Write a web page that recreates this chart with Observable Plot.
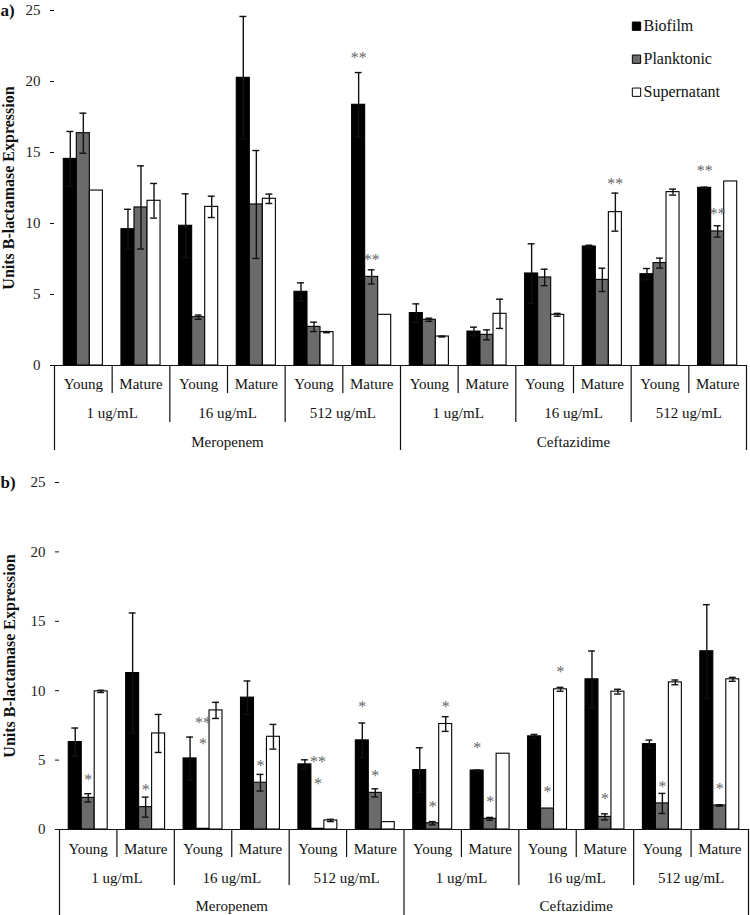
<!DOCTYPE html>
<html><head><meta charset="utf-8">
<script src="https://cdn.jsdelivr.net/npm/d3@7"></script>
<script src="https://cdn.jsdelivr.net/npm/@observablehq/plot@0.6"></script>
<style>
body{margin:0;background:#fff;}
#chart{width:750px;}
#chart svg{display:block;font-family:"Liberation Serif",serif;}
</style></head><body><div id="chart"></div>
<script>
// ---------- categories ----------
const drugs = ["Meropenem", "Ceftazidime"];
const concentrations = ["1 ug/mL", "16 ug/mL", "512 ug/mL"];
const ages = ["Young", "Mature"];
const series = ["Biofilm", "Planktonic", "Supernatant"];
const seriesColors = ["#000000", "#6b6b6b", "#ffffff"];
const yTicks = [0, 5, 10, 15, 20, 25];
const yLabel = "Units B-lactamase Expression";

// ---------- panel a values (12 groups: drug x concentration x age) ----------
const biofilmA        = [14.55, 9.60, 9.84, 20.26, 5.19, 18.36, 3.69, 2.39, 6.48, 8.38, 6.43, 12.51];
const biofilmErrA     = [1.93, 1.40, 2.25, 4.32, 0.63, 2.27, 0.65, 0.31, 2.09, 0.09, 0.40, 0.05];
const planktonicA     = [16.36, 11.13, 3.40, 11.34, 2.72, 6.24, 3.22, 2.16, 6.20, 6.03, 7.21, 9.44];
const planktonicErrA  = [1.41, 2.93, 0.15, 3.80, 0.33, 0.50, 0.11, 0.35, 0.58, 0.82, 0.35, 0.40];
const supernatantA    = [12.32, 11.60, 11.17, 11.74, 2.35, 3.57, 2.04, 3.64, 3.57, 10.80, 12.21, 12.96];
const supernatantErrA = [0, 1.22, 0.75, 0.33, 0.04, 0, 0.03, 1.03, 0.10, 1.34, 0.21, 0];
const starsA = [
  {group: 5, series: "Biofilm", label: "**", value: 21.9},
  {group: 5, series: "Planktonic", label: "**", value: 7.63},
  {group: 9, series: "Supernatant", label: "**", value: 13.03},
  {group: 11, series: "Biofilm", label: "**", value: 13.92},
  {group: 11, series: "Planktonic", label: "**", value: 10.87}
];

// ---------- panel b values ----------
const biofilmB        = [6.30, 11.27, 5.12, 9.50, 4.69, 6.42, 4.28, 4.25, 6.71, 10.82, 6.15, 12.84];
const biofilmErrB     = [1.01, 4.33, 1.54, 1.20, 0.33, 1.25, 1.61, 0.03, 0.14, 2.04, 0.29, 3.36];
const planktonicB     = [2.28, 1.61, 0.05, 3.37, 0.05, 2.64, 0.45, 0.77, 1.51, 0.91, 1.88, 1.73];
const planktonicErrB  = [0.30, 0.72, 0, 0.60, 0, 0.29, 0.12, 0.10, 0, 0.22, 0.72, 0.05];
const supernatantB    = [9.95, 6.92, 8.58, 6.68, 0.65, 0.53, 7.60, 5.46, 10.10, 9.93, 10.60, 10.82];
const supernatantErrB = [0.08, 1.37, 0.58, 0.89, 0.08, 0, 0.53, 0, 0.14, 0.17, 0.17, 0.14];
const starsB = [
  {group: 0, series: "Planktonic", label: "*", value: 3.77},
  {group: 1, series: "Planktonic", label: "*", value: 3.10},
  {group: 2, series: "Planktonic", label: "**", value: 7.93},
  {group: 2, series: "Planktonic", label: "*", value: 6.37},
  {group: 3, series: "Planktonic", label: "*", value: 4.80},
  {group: 4, series: "Planktonic", label: "**", value: 5.12},
  {group: 4, series: "Planktonic", label: "*", value: 3.53},
  {group: 5, series: "Biofilm", label: "*", value: 9.06},
  {group: 5, series: "Planktonic", label: "*", value: 4.09},
  {group: 6, series: "Planktonic", label: "*", value: 1.88},
  {group: 6, series: "Supernatant", label: "*", value: 9.06},
  {group: 7, series: "Biofilm", label: "*", value: 6.10},
  {group: 7, series: "Planktonic", label: "*", value: 2.21},
  {group: 8, series: "Planktonic", label: "*", value: 2.96},
  {group: 8, series: "Supernatant", label: "*", value: 11.54},
  {group: 9, series: "Planktonic", label: "*", value: 2.40},
  {group: 10, series: "Planktonic", label: "*", value: 3.29},
  {group: 11, series: "Planktonic", label: "*", value: 3.13}
];

// ---------- layout helpers ----------
const FONT = "Liberation Serif, serif";
const groups = drugs.flatMap(d => concentrations.flatMap(c => ages.map(a => ({drug: d, conc: c, age: a}))));
const BW = 0.226;                 // bar width in group units
const PAD = (1 - 3 * BW) / 2;     // outer padding inside a group
const CAP = 0.06;                 // half width of error caps
const barX1 = (g, k) => g + PAD + k * BW;
const barXc = (g, k) => barX1(g, k) + BW / 2;

function makePanel(cfg) {
  const vals = [cfg.bio, cfg.pl, cfg.sup];
  const errs = [cfg.bioErr, cfg.plErr, cfg.supErr];
  const rows = groups.flatMap((g, i) => series.map((s, k) => ({
    group: i, series: s, k, value: vals[k][i], err: errs[k][i],
    x1: barX1(i, k), x2: barX1(i, k) + BW, xc: barXc(i, k)
  })));
  const errRows = rows.filter(d => d.err > 0);
  const stars = cfg.stars.map(s => ({...s, xc: barXc(s.group, series.indexOf(s.series))}));

  // group boundaries with their level (1: age, 2: concentration, 3: drug)
  const bounds = d3.range(groups.length + 1).map(i => {
    const a = groups[i - 1], b = groups[i];
    const level = (!a || !b || a.drug !== b.drug) ? 3 : (a.conc !== b.conc ? 2 : 1);
    return {pos: i, level};
  });
  const ageLabels = groups.map((g, i) => ({pos: i + 0.5, text: g.age}));
  const concLabels = d3.range(groups.length / 2).map(j => ({pos: 2 * j + 1, text: groups[2 * j].conc}));
  const drugLabels = drugs.map((d, j) => ({pos: j * 6 + 3, text: d}));

  const L = cfg.lineLens;
  const txt = {fontFamily: FONT, fill: "#111"};
  const marks = [
    Plot.rectY(rows, {x1: "x1", x2: "x2", y1: 0, y2: "value", fill: "series", stroke: "#000", strokeWidth: 1.1}),
    Plot.ruleX(errRows, {x: "xc", y1: d => d.value - d.err, y2: d => d.value + d.err, stroke: "#111", strokeWidth: 1.4}),
    Plot.ruleY(errRows, {y: d => d.value + d.err, x1: d => d.xc - CAP, x2: d => d.xc + CAP, stroke: "#111", strokeWidth: 1.4}),
    Plot.ruleY(errRows, {y: d => d.value - d.err, x1: d => d.xc - CAP, x2: d => d.xc + CAP, stroke: "#111", strokeWidth: 1.4}),
    Plot.text(stars, {x: "xc", y: "value", text: "label", fontFamily: FONT, fill: "#666", fontSize: 16, dy: 3}),
    Plot.ruleY([0], {stroke: "#111", strokeWidth: 1.2}),
    Plot.axisY(yTicks, {tickSize: 4, tickPadding: 10, fontSize: 15, fontFamily: FONT, line: true, label: null, stroke: "#111", fill: "#222"}),
    // hierarchical category axis
    Plot.ruleX(bounds.filter(d => d.level === 1), {x: "pos", y1: 0, y2: 0, insetBottom: -L[0], stroke: "#111", strokeWidth: 1.2}),
    Plot.ruleX(bounds.filter(d => d.level === 2), {x: "pos", y1: 0, y2: 0, insetBottom: -L[1], stroke: "#111", strokeWidth: 1.2}),
    Plot.ruleX(bounds.filter(d => d.level === 3), {x: "pos", y1: 0, y2: 0, insetBottom: -L[2], stroke: "#111", strokeWidth: 1.2}),
    Plot.text(ageLabels, {x: "pos", y: 0, text: "text", dy: cfg.rowDy[0], fontSize: 15, ...txt}),
    Plot.text(concLabels, {x: "pos", y: 0, text: "text", dy: cfg.rowDy[1], fontSize: 15, ...txt}),
    Plot.text(drugLabels, {x: "pos", y: 0, text: "text", dy: cfg.rowDy[2], fontSize: 15, ...txt}),
    // y title and panel tag
    Plot.text([yLabel], {frameAnchor: "left", dx: cfg.titleDx, rotate: -90, text: d => d, textAnchor: "middle", lineAnchor: "middle", fontWeight: "bold", fontSize: 16, ...txt}),
    Plot.text([cfg.tag], {frameAnchor: "top-left", dx: -cfg.marginLeft, dy: 0, text: d => d, textAnchor: "start", lineAnchor: "middle", fontWeight: "bold", fontSize: 17, ...txt})
  ];
  if (cfg.legend) {
    series.forEach((s, i) => {
      marks.push(Plot.dot([s], {frameAnchor: "top-left", dx: 582, dy: 15.7 + 33 * i, symbol: "square", r: 4.7, fill: seriesColors[i], stroke: "#000", strokeWidth: 1}));
      marks.push(Plot.text([s], {frameAnchor: "top-left", dx: 589, dy: 15.7 + 33 * i, text: d => d, textAnchor: "start", lineAnchor: "middle", fontSize: 16, ...txt}));
    });
  }
  return Plot.plot({
    width: 750,
    height: cfg.height,
    marginTop: cfg.marginTop,
    marginBottom: cfg.marginBottom,
    marginLeft: cfg.marginLeft,
    marginRight: cfg.marginRight,
    style: {fontFamily: FONT, fontSize: "15px", color: "#111", background: "#fff"},
    x: {type: "linear", domain: [0, groups.length], axis: null},
    y: {domain: [0, 25], axis: null},
    color: {domain: series, range: seriesColors},
    marks
  });
}

const chart = document.getElementById("chart");
chart.append(makePanel({
  tag: "a)", bio: biofilmA, bioErr: biofilmErrA, pl: planktonicA, plErr: planktonicErrA,
  sup: supernatantA, supErr: supernatantErrA, stars: starsA, legend: true,
  height: 470, marginTop: 10, marginBottom: 105, marginLeft: 54, marginRight: 4,
  lineLens: [28, 57, 85], rowDy: [19, 48, 77], titleDx: -46
}));
chart.append(makePanel({
  tag: "b)", bio: biofilmB, bioErr: biofilmErrB, pl: planktonicB, plErr: planktonicErrB,
  sup: supernatantB, supErr: supernatantErrB, stars: starsB, legend: false,
  height: 445, marginTop: 12, marginBottom: 86, marginLeft: 59, marginRight: 2,
  lineLens: [28, 56, 86], rowDy: [20, 49, 77], titleDx: -50
}));
</script>
</body></html>
